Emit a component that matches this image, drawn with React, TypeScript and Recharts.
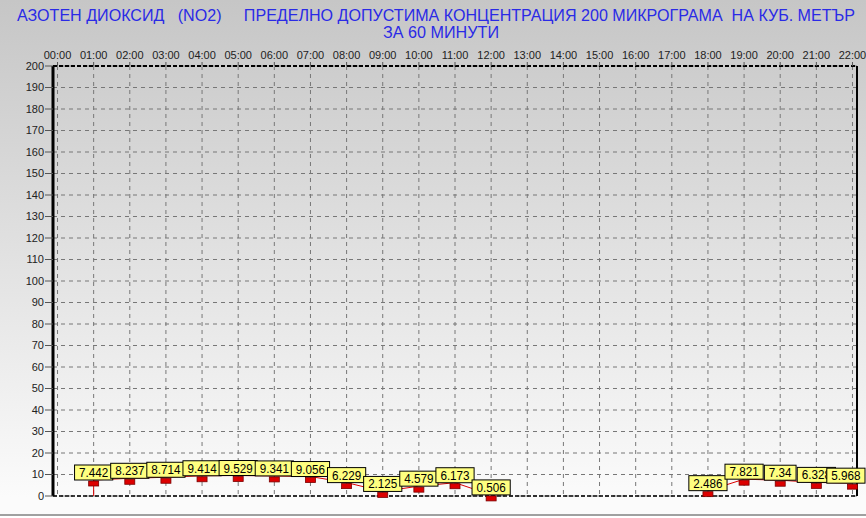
import React from 'react'
import { LineChart, Line, XAxis, YAxis, CartesianGrid, ReferenceLine, LabelList } from 'recharts'

const hours = [
	'00:00', '01:00', '02:00', '03:00', '04:00', '05:00', '06:00', '07:00', '08:00', '09:00', '10:00', '11:00',
	'12:00', '13:00', '14:00', '15:00', '16:00', '17:00', '18:00', '19:00', '20:00', '21:00', '22:00',
]
const no2: (number | null)[] = [
	null, 7.442, 8.237, 8.714, 9.414, 9.529, 9.341, 9.056, 6.229, 2.125, 4.579, 6.173,
	0.506, null, null, null, null, null, 2.486, 7.821, 7.34, 6.328, 5.968,
]
const yTicks = [0, 10, 20, 30, 40, 50, 60, 70, 80, 90, 100, 110, 120, 130, 140, 150, 160, 170, 180, 190, 200]
const titleLine1 = 'АЗОТЕН ДИОКСИД   (NO2)     ПРЕДЕЛНО ДОПУСТИМА КОНЦЕНТРАЦИЯ 200 МИКРОГРАМА  НА КУБ. МЕТЪР'
const titleLine2 = 'ЗА 60 МИНУТИ'

const data = hours.map((h, i) => ({ h: i, v: no2[i] }))

// маркер - малко червено правоъгълниче под точката
const Marker = (props: any) => {
	const { cx, cy, value } = props
	if (value == null || cx == null || cy == null) return null
	return <rect x={cx - 5} y={cy + 1} width={10} height={5} fill="#dd0000" stroke="#7a0000" strokeWidth={0.8} />
}

// жълто каре със стойността (не излиза извън картинката)
const ValueBox = (props: any) => {
	const { x, y, value } = props
	if (value == null) return null
	const s = String(value)
	let w = 0
	for (const c of s) w += c === '.' ? 3.2 : 6.5
	w += 9
	const left = Math.min(x - w / 2, 865 - w)
	return (
		<g>
			<rect x={left} y={y - 15} width={w} height={15} fill="#ffff80" stroke="#000" strokeWidth={1} />
			<text x={left + w / 2} y={y - 3} textAnchor="middle" fontSize={12} fontFamily="Arial, 'Liberation Sans', sans-serif" fill="#000" textLength={w - 9} lengthAdjust="spacingAndGlyphs">
				{s}
			</text>
		</g>
	)
}

export default function App() {
	return (
		<div style={{ position: 'absolute', left: 0, top: 0, width: 866, height: 518, background: 'linear-gradient(#c6c6c6, #fbfbfb 96%)', overflow: 'hidden' }}>
			<svg width={866} height={40} style={{ position: 'absolute', left: 0, top: 0 }}>
				<text x={436} y={21} textAnchor="middle" fontSize={16} fontFamily="Arial, 'Liberation Sans', sans-serif" fill="#2a2ae6" textLength={838} lengthAdjust="spacingAndGlyphs" xmlSpace="preserve">
					{titleLine1}
				</text>
				<text x={441} y={38} textAnchor="middle" fontSize={16} fontFamily="Arial, 'Liberation Sans', sans-serif" fill="#2a2ae6" textLength={116} lengthAdjust="spacingAndGlyphs">
					{titleLine2}
				</text>
			</svg>
			<div style={{ position: 'absolute', left: 0, top: 514, width: 866, height: 2, background: '#a0a0a0' }} />
			<div style={{ position: 'absolute', left: 0, top: 516, width: 866, height: 2, background: '#ffffff' }} />
			<div style={{ position: 'absolute', left: 0, top: 0 }}>
				<LineChart width={866} height={518} data={data} margin={{ top: 40, right: 9, bottom: 22, left: 0 }}>
					<CartesianGrid stroke="#777" strokeDasharray="4 4" />
					<XAxis
						dataKey="h"
						type="number"
						orientation="top"
						domain={[-0.125, 22.125]}
						ticks={hours.map((_, i) => i)}
						tickFormatter={(i: number) => hours[i]}
						interval={0}
						height={26}
						tickSize={4}
						tickMargin={3}
						tick={{ fontSize: 11, fill: '#222', fontFamily: 'Arial' }}
						axisLine={{ stroke: '#000', strokeWidth: 2, strokeDasharray: '4 2' }}
						tickLine={{ stroke: '#555' }}
					/>
					<YAxis
						domain={[0, 200]}
						ticks={yTicks}
						interval={0}
						width={53}
						tickSize={8}
						tickMargin={1}
						tick={{ fontSize: 11, fill: '#222', fontFamily: 'Arial' }}
						axisLine={{ stroke: '#000', strokeWidth: 3 }}
						tickLine={{ stroke: '#555' }}
					/>
					<ReferenceLine x={22.125} stroke="#000" strokeWidth={2} />
					<ReferenceLine y={0} stroke="#000" strokeWidth={1.5} strokeDasharray="4 2" />
					<ReferenceLine segment={[{ x: 1, y: 0 }, { x: 1, y: no2[1] as number }]} stroke="#dd0000" strokeWidth={1} />
					<Line
						dataKey="v"
						stroke="#dd0000"
						strokeWidth={1}
						dot={<Marker />}
						activeDot={false}
						connectNulls={false}
						isAnimationActive={false}
					>
						<LabelList dataKey="v" content={<ValueBox />} />
					</Line>
				</LineChart>
			</div>
		</div>
	)
}
